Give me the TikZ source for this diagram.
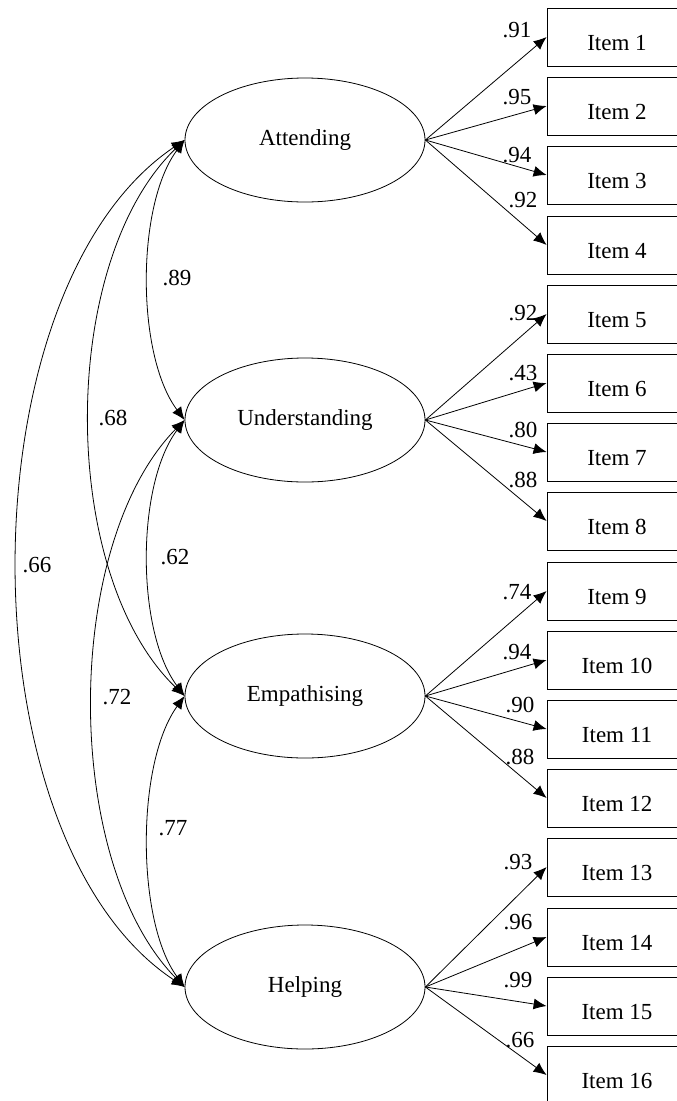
\documentclass[tikz,border=0pt]{standalone}
\usepackage{fontspec}
\setmainfont{Liberation Serif}
\usetikzlibrary{arrows.meta, shapes.geometric}

\begin{document}
\begin{tikzpicture}[x=1pt, y=-1pt, line width=0.8pt, font=\fontsize{23}{27}\selectfont,
  latent/.style={draw, ellipse, minimum width=240pt, minimum height=124pt, inner sep=0pt},
  itembox/.style={draw, rectangle, minimum width=140pt, minimum height=58pt, text height=27pt, inner sep=0pt},
  load/.style={-{Latex[length=13pt,width=11pt]}},
  cov/.style={{Latex[length=13pt,width=11pt]}-{Latex[length=13pt,width=11pt]}}]
\clip (0,0) rectangle (677,1101);
% factors
\node[latent] (att) at (305,140) {Attending};
\node[latent] (und) at (305,420) {Understanding};
\node[latent] (emp) at (305,696) {Empathising};
\node[latent] (hlp) at (305,987) {Helping};
% items
\node[itembox] (i1) at (617,37) {Item 1};
\node[itembox] (i2) at (617,106) {Item 2};
\node[itembox] (i3) at (617,175) {Item 3};
\node[itembox] (i4) at (617,245) {Item 4};
\node[itembox] (i5) at (617,314) {Item 5};
\node[itembox] (i6) at (617,383) {Item 6};
\node[itembox] (i7) at (617,452) {Item 7};
\node[itembox] (i8) at (617,521) {Item 8};
\node[itembox] (i9) at (617,591) {Item 9};
\node[itembox] (i10) at (617,660) {Item 10};
\node[itembox] (i11) at (617,729) {Item 11};
\node[itembox] (i12) at (617,798) {Item 12};
\node[itembox] (i13) at (617,867) {Item 13};
\node[itembox] (i14) at (617,937) {Item 14};
\node[itembox] (i15) at (617,1006) {Item 15};
\node[itembox] (i16) at (617,1075) {Item 16};
% loadings
\draw[load] (att.east) -- (i1.west);
\draw[load] (att.east) -- (i2.west);
\draw[load] (att.east) -- (i3.west);
\draw[load] (att.east) -- (i4.west);
\draw[load] (und.east) -- (i5.west);
\draw[load] (und.east) -- (i6.west);
\draw[load] (und.east) -- (i7.west);
\draw[load] (und.east) -- (i8.west);
\draw[load] (emp.east) -- (i9.west);
\draw[load] (emp.east) -- (i10.west);
\draw[load] (emp.east) -- (i11.west);
\draw[load] (emp.east) -- (i12.west);
\draw[load] (hlp.east) -- (i13.west);
\draw[load] (hlp.east) -- (i14.west);
\draw[load] (hlp.east) -- (i15.west);
\draw[load] (hlp.east) -- (i16.west);
\node (w1) at (517,30) {.91};
\node (w2) at (517,97) {.95};
\node (w3) at (517,155) {.94};
\node (w4) at (523,200) {.92};
\node (w5) at (523,313) {.92};
\node (w6) at (523,373) {.43};
\node (w7) at (523,430) {.80};
\node (w8) at (523,480) {.88};
\node (w9) at (517,592) {.74};
\node (w10) at (517,652) {.94};
\node (w11) at (520,705) {.90};
\node (w12) at (520,757) {.88};
\node (w13) at (518,862) {.93};
\node (w14) at (518,922) {.96};
\node (w15) at (518,980) {.99};
\node (w16) at (520,1040) {.66};
% correlations
\draw[cov] (att.west) .. controls (136,205) and (136,355) .. (und.west);
\draw[cov] (und.west) .. controls (136,485) and (136,631) .. (emp.west);
\draw[cov] (emp.west) .. controls (136,763) and (136,921) .. (hlp.west);
\draw[cov] (att.west) .. controls (58,262) and (58,574) .. (emp.west);
\draw[cov] (und.west) .. controls (62,545) and (62,862) .. (hlp.west);
\draw[cov] (att.west) .. controls (-38,290) and (-38,840) .. (hlp.west);
\node (c1) at (177,278) {.89};
\node (c2) at (175,557) {.62};
\node (c3) at (173,828) {.77};
\node (c4) at (113,418) {.68};
\node (c5) at (117,697) {.72};
\node (c6) at (37,565) {.66};
\end{tikzpicture}
\end{document}
